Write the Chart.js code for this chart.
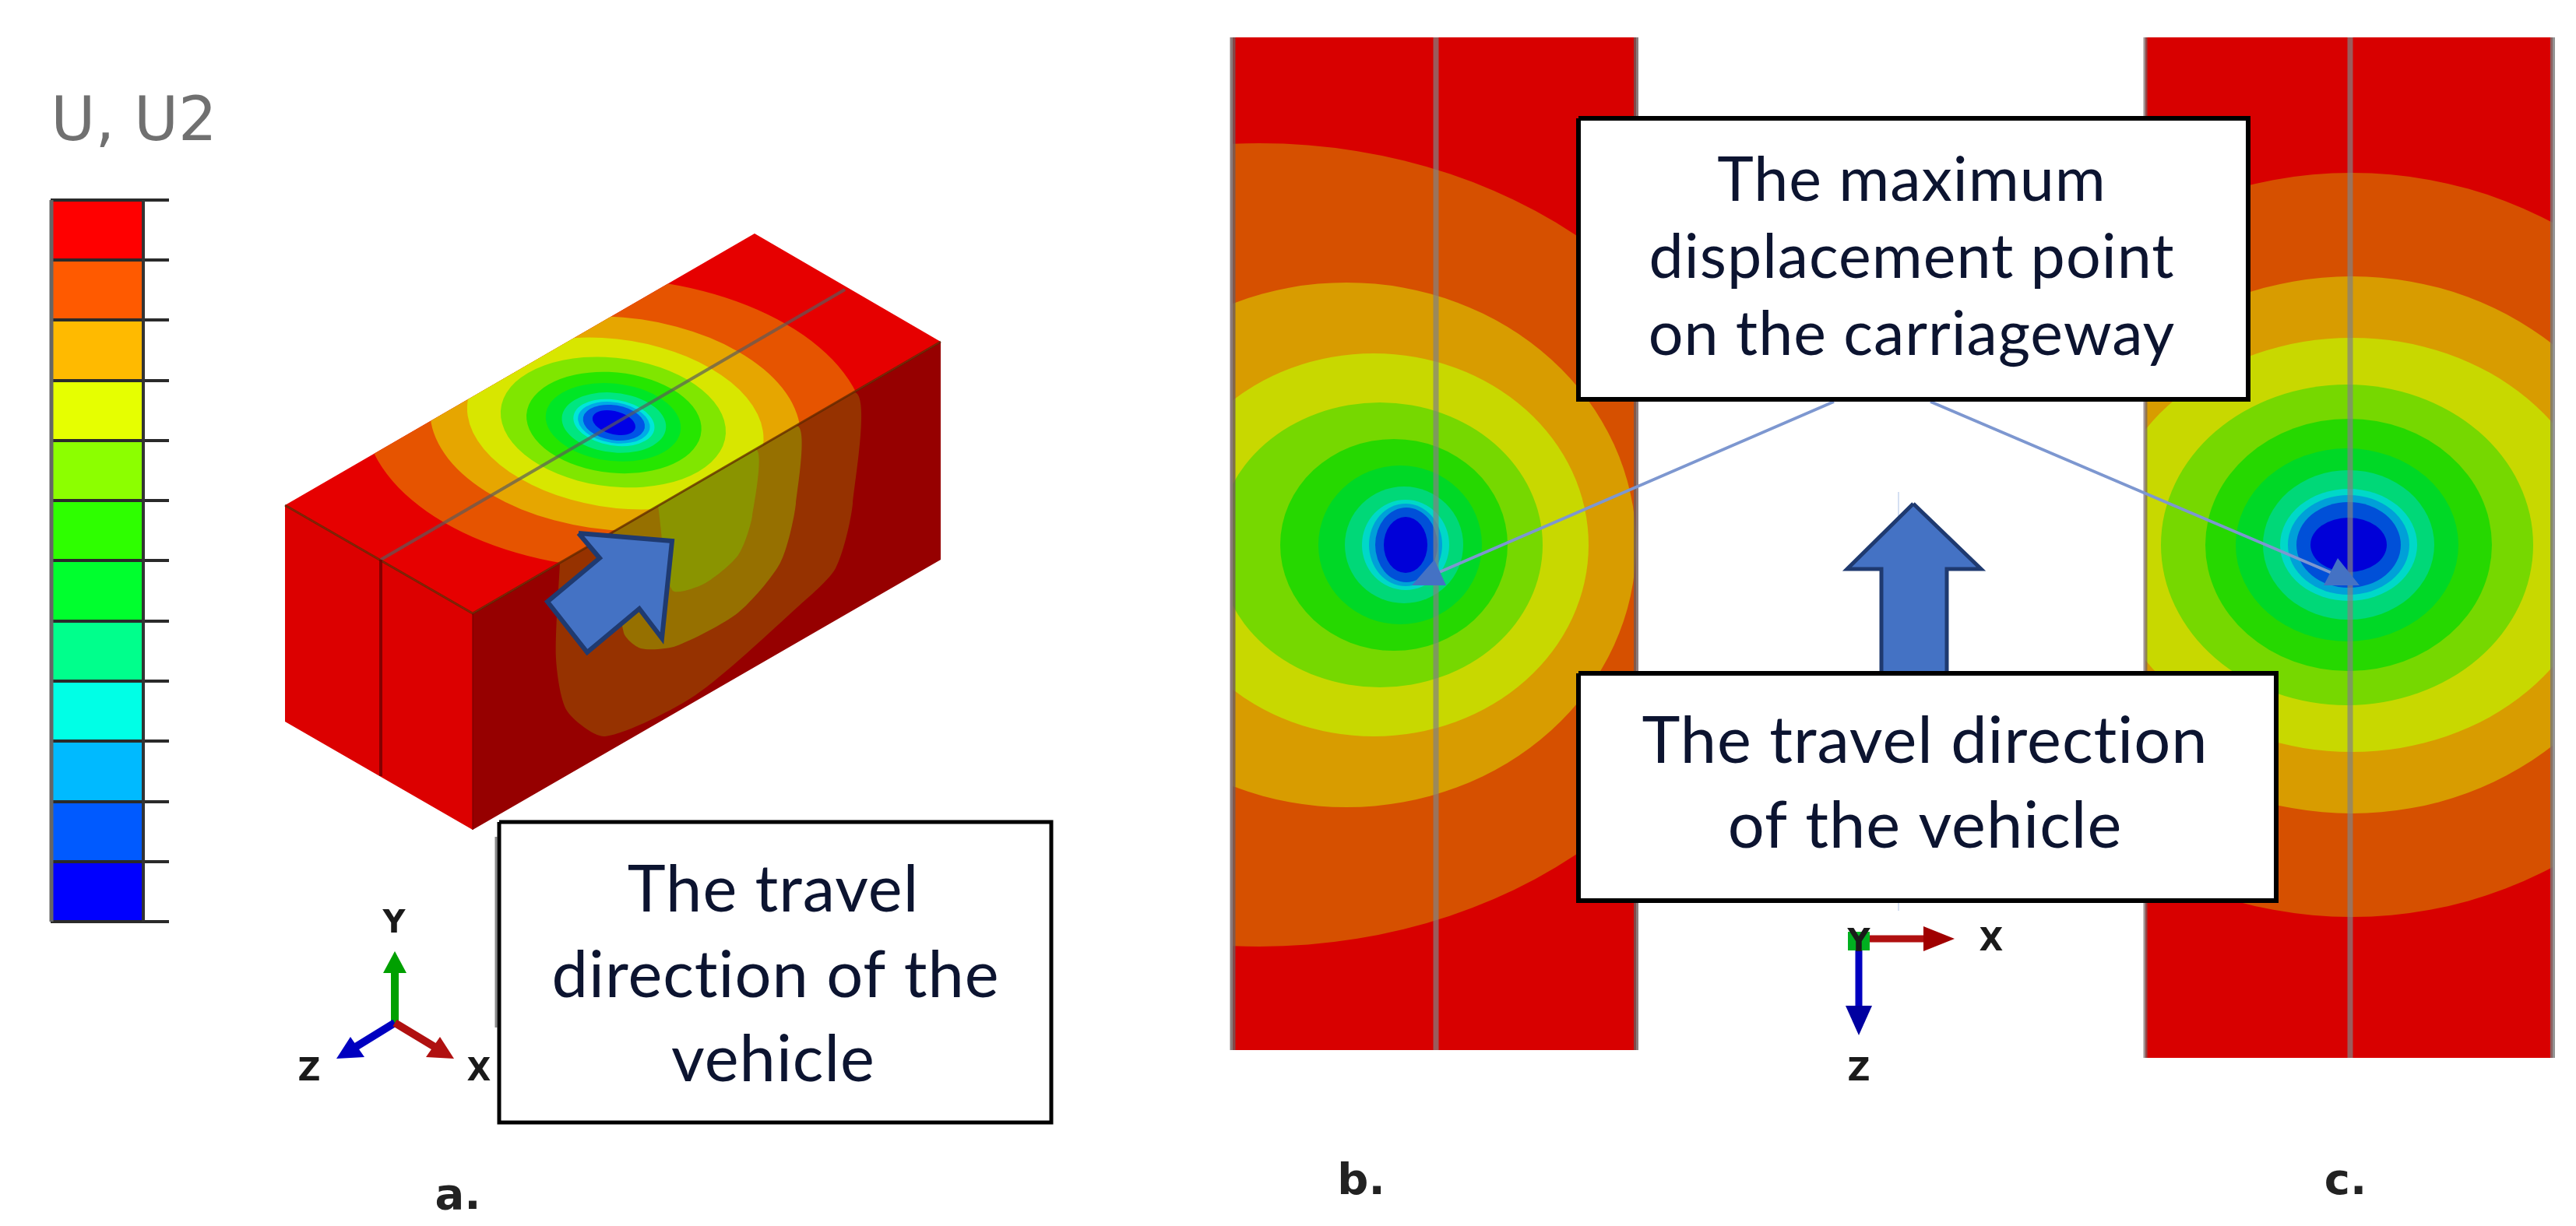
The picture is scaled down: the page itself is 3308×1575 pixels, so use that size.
<!DOCTYPE html>
<html>
<head>
<meta charset="utf-8">
<title>U2 displacement</title>
<script src="https://cdn.jsdelivr.net/npm/chart.js@4"></script>
<style>
  html, body { margin: 0; background: #fff; }
  canvas { display: block; filter: blur(0.7px); }
</style>
</head>
<body>
<canvas id="fig" width="3308" height="1575"></canvas>
<script>
// legend bands, top to bottom
const legendColours = ['#ff0000', '#ff5a00', '#ffba00', '#e6ff00', '#8cff00', '#2eff00', '#00ff2e', '#00ff8c', '#00ffe6', '#00baff', '#005aff', '#0000ff'];
const legendTicks = [257, 334, 411, 489, 566, 643, 720, 798, 875, 952, 1030, 1107, 1184];

// contour colours, outermost band first
const planColours = ['#d65000', '#d89c00', '#c8d800', '#76d800', '#26d800', '#00d826', '#00d878', '#00d8c8', '#00a0d8', '#0050d8', '#0000d8'];
const isoColours = ['#e65400', '#e6a600', '#d8e600', '#80e600', '#26e600', '#00e626', '#00e680', '#00e6d8', '#00aae6', '#0054e6', '#0000e6'];

// panel b contours
const bCx = [1617, 1729, 1764, 1772, 1790, 1798, 1803, 1805, 1805, 1806, 1805];
const bCy = [700, 700, 700, 700, 700, 700, 700, 700, 700, 700, 700];
const bRx = [639, 372, 276, 209, 146, 105, 76, 56, 47, 40, 28];
const bRy = [516, 337, 246, 183, 136, 102, 75, 58, 53, 48, 36];

// panel c contours
const cCx = [3020, 3020, 3020, 3014, 3016, 3014, 3016, 3016, 3016, 3016, 3016];
const cCy = [700, 700, 700, 700, 700, 700, 700, 700, 700, 700, 700];
const cRx = [516, 388, 319, 239, 184, 143, 110, 88, 78, 67, 49];
const cRy = [478, 345, 266, 206, 162, 124, 96, 72, 64, 55, 35];

// outlines
const panelB = [[1583, 48], [2101, 48], [2101, 1349], [1583, 1349]];
const panelC = [[2755, 48], [3278, 48], [3278, 1359], [2755, 1359]];
const topFace = [[969, 300], [1208, 439], [607, 788], [366, 649]]; // same corner order as the plan panels
const leftFace = [[366, 649], [607, 788], [607, 1066], [366, 927]];
const sideFace = [[607, 788], [1208, 439], [1208, 719], [607, 1066]];
const sideBand1 = [[719, 722], [1095, 504], [1095, 647], [1073, 730], [1024, 780], [893, 893], [777, 946], [728, 913], [714, 846]];
const sideBand2 = [[787, 684], [1022, 547], [1022, 647], [1002, 723], [948, 787], [868, 830], [823, 833], [801, 813]];
const sideBand3 = [[845, 650], [970, 577], [966, 663], [948, 713], [904, 750], [863, 758]];
const isoArrow = [[743, 685], [863, 695], [850, 820], [821, 782], [754, 838], [703, 773], [770, 717]];
const upArrow = [[2457, 647], [2544, 731], [2500, 731], [2500, 880], [2416, 880], [2416, 731], [2372, 731]];
const boxA = [[641, 1056], [1350, 1056], [1350, 1442], [641, 1442]];
const boxTop = [[2027, 152], [2887, 152], [2887, 513], [2027, 513]];
const boxBottom = [[2027, 865], [2923, 865], [2923, 1157], [2027, 1157]];
const headB = [[1813, 752], [1857, 752], [1842, 719]];
const headC = [[2984, 752], [3030, 752], [3002, 717]];

// captions: text, x, baseline y
const boxALines = [['The travel', 993, 1171], ['direction of the', 996, 1281], ['vehicle', 993, 1389]];
const boxTopLines = [['The maximum', 2455, 258], ['displacement point', 2455, 357], ['on the carriageway', 2455, 456]];
const boxBottomLines = [['The travel direction', 2472, 980], ['of the vehicle', 2472, 1089]];
const panelLabels = [['a.', 588, 1553], ['b.', 1748, 1534], ['c.', 3012, 1534]];
const axisLetters = [['Y', 506, 1198], ['Z', 397, 1388], ['X', 615, 1388], ['Y', 2387, 1222], ['X', 2557, 1221], ['Z', 2387, 1388]];

const pts = list => list.map(p => ({ x: p[0], y: p[1] }));

function poly(points, fill, border, width, extra) {
  const closed = points.concat([points[0]]);
  return Object.assign({
    data: pts(closed), showLine: true, fill: 'shape', backgroundColor: fill,
    borderColor: border || fill, borderWidth: width || 0, pointRadius: 0, tension: 0
  }, extra || {});
}

function line(points, colour, width) {
  return { data: pts(points), showLine: true, fill: false, borderColor: colour, borderWidth: width, pointRadius: 0, tension: 0 };
}

// paint order, first one is at the back
const layers = [];

// colour key
legendColours.forEach((c, i) => {
  layers.push(poly([[65, legendTicks[i]], [184, legendTicks[i]], [184, legendTicks[i + 1]], [65, legendTicks[i + 1]]], c));
});
legendTicks.forEach(t => layers.push(line([[65, t], [217, t]], '#2a2a2a', 4)));
layers.push(line([[66, 257], [66, 1184]], '#666666', 5));
layers.push(line([[184, 257], [184, 1184]], '#333333', 4));

// isometric block
layers.push(poly(leftFace, '#dc0000'));
layers.push(poly(sideFace, '#960000'));
layers.push(poly(sideBand1, '#963200', null, 0, { tension: 0.25 }));
layers.push(poly(sideBand2, '#967000', null, 0, { tension: 0.25 }));
layers.push(poly(sideBand3, '#8a9400', null, 0, { tension: 0.25 }));
layers.push(poly(topFace, '#e60000', null, 0, { contours: { cx: cCx, cy: cCy, rx: cRx, ry: cRy, frame: panelC, colours: isoColours } }));
layers.push(line([[366, 649], [607, 788], [1208, 439]], 'rgba(90,40,0,0.75)', 3));
layers.push(line([[489, 719], [1085, 372]], 'rgba(90,90,90,0.7)', 4));
layers.push(line([[489, 719], [489, 997]], 'rgba(110,0,0,0.8)', 4));
layers.push(line([[607, 788], [607, 1066]], 'rgba(110,0,0,0.5)', 2));
layers.push(poly(isoArrow, '#4472c4', '#1f3a70', 6));

// plan views
layers.push(poly(panelB, '#d80000', null, 0, { contours: { cx: bCx, cy: bCy, rx: bRx, ry: bRy, frame: panelB, colours: planColours } }));
layers.push(line([[1844, 48], [1844, 1349]], 'rgba(130,130,130,0.7)', 7));
layers.push(line([[1583, 48], [1583, 1349]], 'rgba(110,90,90,0.8)', 7));
layers.push(line([[2101, 48], [2101, 1349]], 'rgba(110,90,90,0.8)', 6));
layers.push(poly(panelC, '#d80000', null, 0, { contours: { cx: cCx, cy: cCy, rx: cRx, ry: cRy, frame: panelC, colours: planColours } }));
layers.push(line([[3018, 48], [3018, 1359]], 'rgba(130,130,130,0.7)', 7));
layers.push(line([[2755, 48], [2755, 1359]], 'rgba(120,100,100,0.7)', 5));
layers.push(line([[3278, 48], [3278, 1359]], 'rgba(120,120,120,0.8)', 6));

// pointers and direction arrow
layers.push(line([[2355, 516], [1846, 736]], '#7d97d0', 4));
layers.push(line([[2479, 516], [3013, 744]], '#7d97d0', 4));
layers.push(poly(headB, '#4472c4'));
layers.push(poly(headC, '#4472c4'));
layers.push(line([[2438, 632], [2438, 1170]], '#d5e0f2', 2));
layers.push(poly(upArrow, '#4472c4', '#1f3a70', 5));

// caption boxes
layers.push(line([[637, 1075], [637, 1320]], '#8a8a8a', 3));
layers.push(poly(boxA, '#ffffff', '#000000', 5));
layers.push(poly(boxTop, '#ffffff', '#000000', 6));
layers.push(poly(boxBottom, '#ffffff', '#000000', 6));

// triads
layers.push(line([[507, 1314], [507, 1240]], '#00a000', 10));
layers.push(poly([[507, 1222], [522, 1250], [492, 1250]], '#00a000'));
layers.push(line([[507, 1314], [455, 1346]], '#0000c0', 10));
layers.push(poly([[432, 1360], [450, 1332], [468, 1358]], '#0000c0'));
layers.push(line([[507, 1314], [560, 1346]], '#b01010', 10));
layers.push(poly([[583, 1360], [547, 1358], [565, 1332]], '#b01010'));
layers.push(line([[2387, 1206], [2480, 1206]], '#b01010', 9));
layers.push(poly([[2510, 1206], [2470, 1190], [2470, 1222]], '#a00000'));
layers.push(line([[2387, 1206], [2387, 1300]], '#0000c0', 9));
layers.push(poly([[2387, 1330], [2370, 1292], [2404, 1292]], '#0000a0'));
layers.push(poly([[2373, 1197], [2401, 1197], [2401, 1221], [2373, 1221]], '#00b020'));

layers.forEach((ds, i) => { ds.order = layers.length - i; });

// contour rings for a dataset, mapped from their plan frame onto the dataset's outline
const contourPlugin = {
  id: 'contours',
  afterDatasetDraw(chart, args) {
    const spec = chart.data.datasets[args.index].contours;
    if (!spec) return;
    const { x, y } = chart.scales;
    const ctx = chart.ctx;
    const corners = chart.data.datasets[args.index].data.slice(0, 4).map(p => [x.getPixelForValue(p.x), y.getPixelForValue(p.y)]);
    const [l, t] = spec.frame[0];
    const w = spec.frame[1][0] - l;
    const h = spec.frame[2][1] - t;
    const ux = (corners[1][0] - corners[0][0]) / w, uy = (corners[1][1] - corners[0][1]) / w;
    const vx = (corners[3][0] - corners[0][0]) / h, vy = (corners[3][1] - corners[0][1]) / h;
    ctx.save();
    ctx.beginPath();
    corners.forEach((c, i) => (i ? ctx.lineTo(c[0], c[1]) : ctx.moveTo(c[0], c[1])));
    ctx.closePath();
    ctx.clip();
    ctx.transform(ux, uy, vx, vy, corners[0][0] - ux * l - vx * t, corners[0][1] - uy * l - vy * t);
    spec.colours.forEach((c, i) => {
      ctx.fillStyle = c;
      ctx.beginPath();
      ctx.ellipse(spec.cx[i], spec.cy[i], spec.rx[i], spec.ry[i], 0, 0, Math.PI * 2);
      ctx.fill();
    });
    ctx.restore();
  }
};

const textPlugin = {
  id: 'captions',
  afterDatasetsDraw(chart) {
    const { x, y } = chart.scales;
    const ctx = chart.ctx;
    const put = (rows, font, colour) => {
      ctx.font = font;
      ctx.fillStyle = colour;
      ctx.textAlign = 'center';
      ctx.textBaseline = 'alphabetic';
      rows.forEach(r => ctx.fillText(r[0], x.getPixelForValue(r[1]), y.getPixelForValue(r[2])));
    };
    ctx.save();
    ctx.letterSpacing = '1px'; // stops the Lato "ti" ligature
    put(boxALines, '83px Lato', '#0c1430');
    put(boxTopLines, '79px Lato', '#0c1430');
    put(boxBottomLines, '83px Lato', '#0c1430');
    ctx.letterSpacing = '0px';
    put(panelLabels, 'bold 56px "DejaVu Sans"', '#222222');
    put(axisLetters, 'bold 40px "DejaVu Sans"', '#1a1a1a');
    put([['U, U2', 172, 180]], '78px "DejaVu Sans"', '#707070');
    ctx.restore();
  }
};

new Chart(document.getElementById('fig').getContext('2d'), {
  type: 'scatter',
  data: { datasets: layers },
  options: {
    responsive: false,
    animation: false,
    layout: { padding: 0 },
    plugins: { legend: { display: false }, tooltip: { enabled: false } },
    scales: {
      x: { type: 'linear', min: 0, max: 3308, display: false },
      y: { type: 'linear', min: 0, max: 1575, reverse: true, display: false }
    }
  },
  plugins: [contourPlugin, textPlugin]
});
</script>
</body>
</html>
